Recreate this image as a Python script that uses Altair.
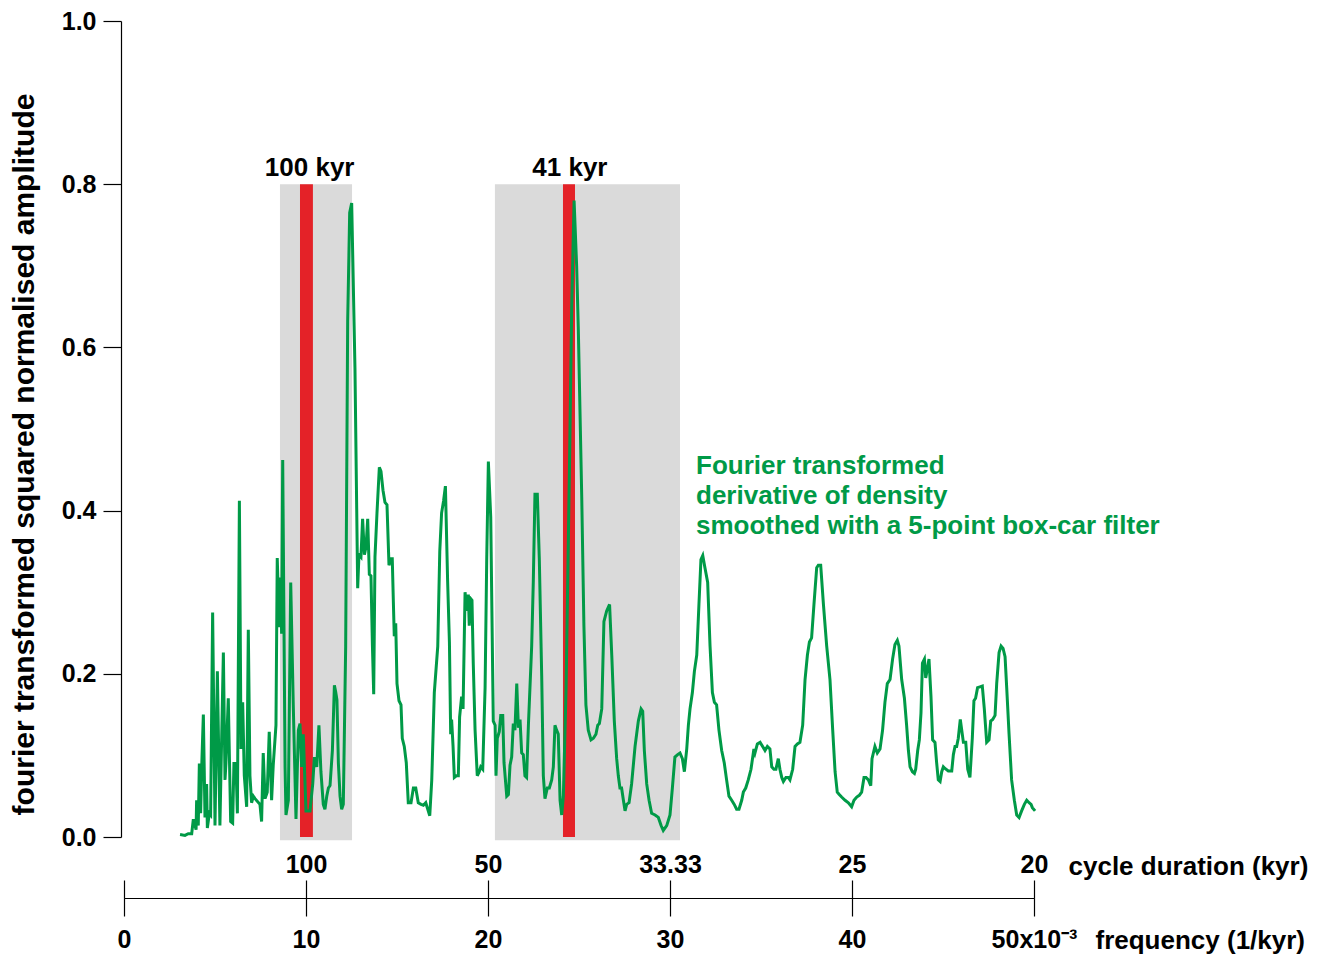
import json
import altair as alt
import pandas as pd

# ---------------- data ----------------
freq = [3.08, 3.35, 3.53, 3.72, 3.81, 3.96, 3.99, 4.08, 4.14, 4.21, 4.27, 4.36, 4.45, 4.54, 4.58, 4.69, 4.76, 4.87,
        5.00, 5.13, 5.27, 5.46, 5.55, 5.60, 5.73, 5.86, 5.97, 6.04, 6.15, 6.23, 6.34, 6.43, 6.52, 6.61, 6.74, 6.83,
        6.92, 7.01, 7.11, 7.20, 7.47, 7.56, 7.65, 7.75, 7.87, 7.98, 8.11, 8.20, 8.35, 8.42, 8.53, 8.61, 8.66, 8.72,
        8.85, 8.90, 9.03, 9.16, 9.30, 9.45, 9.58, 9.67, 9.76, 9.85, 10.00, 10.22, 10.37, 10.46, 10.59, 10.71,
        10.82, 10.95, 11.04, 11.14, 11.23, 11.32, 11.45, 11.56, 11.63, 11.70, 11.78, 11.87, 11.96, 12.05, 12.18,
        12.29, 12.40, 12.51, 12.69, 12.84, 12.91, 13.02, 13.11, 13.21, 13.30, 13.39, 13.48, 13.57, 13.65, 13.72,
        13.79, 13.90, 14.03, 14.12, 14.23, 14.34, 14.45, 14.56, 14.67, 14.74, 14.80, 14.85, 14.93, 15.00, 15.11,
        15.22, 15.29, 15.40, 15.51, 15.62, 15.77, 15.90, 16.03, 16.17, 16.32, 16.45, 16.58, 16.69, 16.80, 16.91,
        17.05, 17.24, 17.35, 17.45, 17.56, 17.66, 17.78, 17.88, 17.95, 18.00, 18.08, 18.15, 18.26, 18.37, 18.44,
        18.55, 18.63,
        18.74, 18.83, 18.92, 18.97, 19.05, 19.12, 19.19, 19.29, 19.41, 19.52, 19.60, 19.71, 19.84, 19.93, 20.02,
        20.15, 20.29, 20.39, 20.44, 20.51, 20.62, 20.70, 20.81, 20.88, 21.03, 21.12, 21.21, 21.30, 21.39, 21.48,
        21.58, 21.67, 21.76, 21.85, 21.94, 22.03, 22.12, 22.22, 22.40, 22.49, 22.58, 22.71, 22.82, 22.95, 23.04,
        23.13, 23.26, 23.37, 23.50, 23.59, 23.68, 23.77, 23.86, 23.96, 24.05, 24.14, 24.29, 24.47, 24.60, 24.73,
        24.87, 24.96, 25.15, 25.27, 25.38, 25.51, 25.66, 25.79, 25.93, 26.03, 26.12, 26.25, 26.37, 26.52, 26.68,
        26.80, 26.94, 27.07, 27.16, 27.25, 27.34, 27.44, 27.53, 27.62, 27.75, 27.89, 28.08, 28.26, 28.41, 28.50,
        28.59, 28.72, 28.85, 28.99, 29.18, 29.36, 29.51, 29.63, 29.82, 30.00, 30.13, 30.27, 30.42, 30.55, 30.68,
        30.79, 30.92, 31.01, 31.10, 31.23, 31.34, 31.47, 31.59, 31.70, 31.80, 31.92, 32.07, 32.20, 32.33, 32.44,
        32.56, 32.69, 32.84, 32.98, 33.11, 33.24, 33.39, 33.53, 33.66, 33.79, 33.94, 34.03, 34.16, 34.30, 34.45,
        34.61,
        34.67, 34.80, 34.95, 35.09, 35.22, 35.35, 35.49, 35.59, 35.71, 35.82, 35.95, 36.04, 36.14, 36.23, 36.37,
        36.50, 36.59, 36.74, 36.87, 37.00, 37.14, 37.29, 37.42, 37.55, 37.66, 37.78, 37.91, 38.06, 38.15, 38.28,
        38.43, 38.61, 38.79, 38.94, 39.07, 39.19, 39.30, 39.43, 39.62, 39.80, 39.98, 40.11, 40.26, 40.40, 40.53,
        40.66, 40.77, 40.90, 41.03, 41.10, 41.26, 41.39, 41.54, 41.68, 41.81, 41.94, 42.09, 42.23, 42.36, 42.49,
        42.58,
        42.73, 42.88, 43.00, 43.10, 43.19, 43.32, 43.43, 43.50, 43.61, 43.70, 43.79, 43.87, 43.98, 44.05, 44.14,
        44.23, 44.34, 44.43, 44.56, 44.65, 44.74, 44.84, 44.93, 45.02, 45.11, 45.29, 45.48, 45.57, 45.66, 45.75,
        45.84, 45.95, 46.03, 46.12, 46.25, 46.36, 46.48, 46.61, 46.70, 46.79, 46.90, 47.03, 47.16, 47.27, 47.40,
        47.53, 47.62, 47.73, 47.86, 47.95, 48.08, 48.19, 48.30, 48.41, 48.50, 48.63, 48.77, 48.92, 49.05, 49.18,
        49.32, 49.47, 49.60, 49.73, 49.84, 49.91, 50.06]

amp = [0.003, 0.002, 0.004, 0.004, 0.022, 0.009, 0.045, 0.014, 0.09, 0.029, 0.086, 0.15, 0.024, 0.065, 0.011,
       0.029, 0.027, 0.275, 0.014, 0.203, 0.014, 0.226, 0.07, 0.09, 0.17, 0.019, 0.017, 0.09, 0.09, 0.029, 0.412,
       0.108, 0.165, 0.075, 0.037, 0.254, 0.075, 0.042, 0.05, 0.047, 0.04, 0.019, 0.103, 0.047, 0.055, 0.129,
       0.045, 0.088, 0.137, 0.342, 0.257, 0.318, 0.249, 0.462, 0.086, 0.027, 0.045, 0.312, 0.162, 0.022, 0.131,
       0.139, 0.086, 0.126, 0.032, 0.032, 0.065, 0.098, 0.086, 0.137,
       0.08, 0.04, 0.034, 0.05, 0.06, 0.063, 0.106, 0.186, 0.178, 0.168, 0.09, 0.05, 0.034, 0.04, 0.234,
       0.632, 0.765, 0.777, 0.575, 0.305, 0.346, 0.343, 0.39, 0.346, 0.356, 0.39, 0.322, 0.32, 0.234, 0.175,
       0.343, 0.397, 0.453, 0.448, 0.425, 0.41, 0.407, 0.333, 0.341, 0.341, 0.288, 0.246, 0.262, 0.188, 0.167,
       0.162, 0.121, 0.111, 0.091, 0.042, 0.042, 0.06, 0.06, 0.042, 0.04, 0.039, 0.042, 0.034, 0.026, 0.07,
       0.177, 0.234, 0.35, 0.397, 0.412, 0.43, 0.315, 0.239, 0.126, 0.144, 0.111, 0.073, 0.075, 0.075, 0.147,
       0.172, 0.157,
       0.30, 0.277, 0.297, 0.259, 0.292, 0.29, 0.213, 0.131, 0.075, 0.08, 0.086, 0.083, 0.183, 0.341, 0.46,
       0.392, 0.142, 0.137, 0.075, 0.121, 0.129, 0.149, 0.149, 0.091, 0.05, 0.052, 0.088, 0.098, 0.139, 0.131,
       0.188, 0.134, 0.144, 0.103, 0.101, 0.075, 0.073, 0.137, 0.234, 0.314, 0.42, 0.42, 0.34, 0.198, 0.075,
       0.047, 0.06, 0.06, 0.07, 0.086, 0.137, 0.131, 0.126, 0.045, 0.027, 0.05, 0.183, 0.443, 0.65, 0.78,
       0.70, 0.625, 0.417, 0.259, 0.162, 0.131, 0.119, 0.121, 0.126, 0.137, 0.139, 0.157, 0.264, 0.277, 0.285,
       0.223, 0.142, 0.096, 0.075, 0.06, 0.06, 0.045, 0.032, 0.04, 0.042, 0.065, 0.111, 0.142, 0.157, 0.154,
       0.106, 0.065, 0.045, 0.029, 0.027, 0.024, 0.014, 0.008, 0.014, 0.027, 0.06, 0.098, 0.101, 0.103, 0.096,
       0.08, 0.108, 0.137, 0.157, 0.177, 0.203, 0.223, 0.285, 0.34, 0.345, 0.33, 0.312, 0.234, 0.177, 0.165,
       0.162, 0.131, 0.106, 0.091, 0.07, 0.05, 0.045, 0.04, 0.034, 0.034, 0.045, 0.055, 0.06, 0.07, 0.083,
       0.108,
       0.103, 0.114, 0.116, 0.111, 0.106, 0.111, 0.108, 0.086, 0.083, 0.083, 0.096, 0.083, 0.073, 0.068, 0.073,
       0.073, 0.07, 0.083, 0.111, 0.114, 0.116, 0.137, 0.193, 0.223, 0.239, 0.244, 0.285, 0.33, 0.333, 0.333,
       0.285, 0.234, 0.193, 0.131, 0.08, 0.055, 0.052, 0.049, 0.045, 0.042, 0.037, 0.045, 0.049, 0.051, 0.055,
       0.073, 0.073, 0.07, 0.063, 0.096, 0.111, 0.103, 0.108, 0.131, 0.165, 0.188, 0.193, 0.218, 0.236, 0.241,
       0.234,
       0.193, 0.17, 0.137, 0.106, 0.086, 0.08, 0.078, 0.083, 0.106, 0.119, 0.152, 0.213, 0.218, 0.195, 0.206,
       0.218, 0.172, 0.119, 0.116, 0.091, 0.07, 0.068, 0.08, 0.086, 0.084, 0.081, 0.081, 0.101, 0.111, 0.111,
       0.121, 0.144, 0.131, 0.116, 0.116, 0.083, 0.073, 0.121, 0.167, 0.17, 0.183, 0.184, 0.185, 0.157, 0.116,
       0.119, 0.142, 0.144, 0.149, 0.188, 0.226, 0.234, 0.231, 0.221, 0.183, 0.126, 0.07, 0.045, 0.027, 0.024,
       0.032, 0.04, 0.045, 0.042, 0.04, 0.036, 0.032]

band_start = [8.57, 20.38]
band_end = [12.53, 30.55]
band_top = [0.8, 0.8]
band_bottom = [-0.004, -0.004]

red_start = [9.67, 24.12]
red_end = [10.38, 24.78]
red_top = [0.8, 0.8]
red_bottom = [0.0, 0.0]

period_labels = ["100 kyr", "41 kyr"]
period_label_x = [10.2, 24.5]
period_label_y = [0.81, 0.81]

note_lines = ["Fourier transformed", "derivative of density", "smoothed with a 5-point box-car filter"]
note_x = [31.43]
note_y = [0.445]

amp_ticks = [0, 0.2, 0.4, 0.6, 0.8, 1.0]
freq_ticks = [0, 10, 20, 30, 40, 50]
freq_tick_labels = ["0", "10", "20", "30", "40", "50x10\u207b\u00b3"]
cycle_tick_labels = ["", "100", "50", "33.33", "25", "20"]

# ---------------- styling ----------------
FONT = "Liberation Sans"
GREEN = "#009a47"
RED = "#e42228"
GRAY = "#dadada"

line_df = pd.DataFrame({"f": freq, "a": amp})
band_df = pd.DataFrame({"x1": band_start, "x2": band_end, "y1": band_bottom, "y2": band_top})
red_df = pd.DataFrame({"x1": red_start, "x2": red_end, "y1": red_bottom, "y2": red_top})
lab_df = pd.DataFrame({"x": period_label_x, "y": period_label_y, "t": period_labels})
note_df = pd.DataFrame({"x": note_x, "y": note_y})

xscale = alt.Scale(domain=[0, 50], nice=False, zero=False)
yscale = alt.Scale(domain=[0, 1], nice=False, zero=False)


def label_expr(labels):
    return "%s[indexof(%s, datum.value)]" % (json.dumps(labels, ensure_ascii=False), json.dumps(freq_ticks))


common_axis = dict(
    labelFont=FONT, labelFontWeight="bold", labelFontSize=25, labelColor="black",
    tickColor="black", domainColor="black", tickWidth=1.2, domainWidth=1.2, grid=False,
    titleFont=FONT, titleFontWeight="bold", titleColor="black", labelFlush=False, labelOverlap=False,
)

yax = alt.Axis(values=amp_ticks, format=".1f", offset=3, tickSize=18, labelPadding=7,
               title="fourier transformed squared normalised amplitude", titleFontSize=30,
               titleAngle=270, titleX=-97, titleY=433, titleAlign="center", titleBaseline="middle",
               **common_axis)

top_ax = alt.Axis(orient="top", offset=-877, values=freq_ticks, labelExpr=label_expr(cycle_tick_labels),
                  tickSize=18, labelPadding=3, title="cycle duration (kyr)", titleFontSize=26,
                  titleX=944, titleY=-32, titleAlign="left", titleBaseline="middle", **common_axis)

bot_ax = alt.Axis(orient="bottom", offset=61, values=freq_ticks, labelExpr=label_expr(freq_tick_labels),
                  tickSize=18, labelPadding=11, title="frequency (1/kyr)", titleFontSize=26,
                  titleX=971, titleY=42, titleAlign="left", titleBaseline="middle", **common_axis)

no_frame = alt.ViewBackground(stroke="transparent", strokeWidth=0)

bands = alt.Chart(band_df, view=no_frame).mark_rect(color=GRAY).encode(
    x=alt.X("x1:Q", scale=xscale, axis=top_ax), x2="x2:Q",
    y=alt.Y("y1:Q", scale=yscale, axis=yax), y2="y2:Q")

reds = alt.Chart(red_df, view=no_frame).mark_rect(color=RED).encode(
    x=alt.X("x1:Q", scale=xscale, axis=None), x2="x2:Q",
    y=alt.Y("y1:Q", scale=yscale, axis=yax), y2="y2:Q")

line = alt.Chart(line_df, view=no_frame).mark_line(color=GREEN, strokeWidth=3).encode(
    x=alt.X("f:Q", scale=xscale, axis=bot_ax),
    y=alt.Y("a:Q", scale=yscale, axis=yax))

labels = alt.Chart(lab_df, view=no_frame).mark_text(font=FONT, fontWeight="bold", fontSize=26, color="black",
                                                    align="center", baseline="alphabetic").encode(
    x=alt.X("x:Q", scale=xscale, axis=None),
    y=alt.Y("y:Q", scale=yscale, axis=yax), text="t:N")

note = alt.Chart(note_df, view=no_frame).mark_text(text=note_lines, font=FONT, fontWeight="bold", fontSize=26,
                                                   color=GREEN, align="left", baseline="alphabetic",
                                                   lineHeight=30).encode(
    x=alt.X("x:Q", scale=xscale, axis=None),
    y=alt.Y("y:Q", scale=yscale, axis=yax))

chart = alt.layer(bands, reds, line, labels, note).resolve_axis(x="independent").properties(
    width=910, height=816,
    view=no_frame,
    autosize=alt.AutoSizeParams(type="none"),
    padding={"left": 124, "top": 21, "right": 289, "bottom": 117},
).configure(
    background="white",
    style={"cell": {"stroke": "transparent", "strokeWidth": 0}},
).configure_view(strokeWidth=0, stroke="transparent")

chart.save("out.html", embed_options={"renderer": "svg", "actions": False})
